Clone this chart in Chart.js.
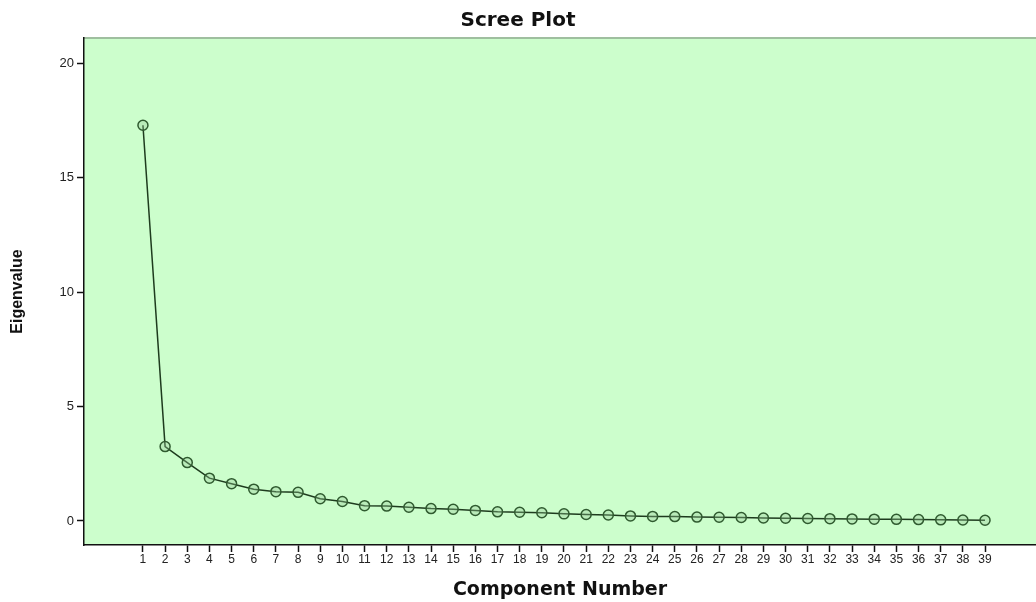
<!DOCTYPE html>
<html lang="en">
<head>
<meta charset="UTF-8">
<title>Scree Plot</title>
<script src="https://cdn.jsdelivr.net/npm/chart.js"></script>
<style>
    body { margin: 0; background: white; }
    #wrap { width: 1036px; height: 602px; }
</style>
</head>
<body>
<div id="wrap"><canvas id="scree" width="1036" height="602"></canvas></div>
<script>
const components = [1, 2, 3, 4, 5, 6, 7, 8, 9, 10, 11, 12, 13, 14, 15, 16, 17, 18, 19, 20,
    21, 22, 23, 24, 25, 26, 27, 28, 29, 30, 31, 32, 33, 34, 35, 36, 37, 38, 39];
const eigenvalues = [17.29, 3.25, 2.55, 1.87, 1.63, 1.39, 1.28, 1.25, 0.97, 0.85,
    0.67, 0.65, 0.60, 0.54, 0.51, 0.46, 0.40, 0.38, 0.36, 0.31,
    0.28, 0.26, 0.22, 0.20, 0.19, 0.17, 0.16, 0.15, 0.13, 0.12,
    0.11, 0.10, 0.09, 0.08, 0.07, 0.06, 0.05, 0.04, 0.03];
const yTicks = [0, 5, 10, 15, 20];

// green plot area + grey top edge
const plotBg = {
    id: 'plotBg',
    beforeDraw(chart) {
        const {ctx, chartArea: a} = chart;
        ctx.save();
        ctx.fillStyle = '#ccfecc';
        ctx.fillRect(a.left, a.top, a.right - a.left, a.bottom - a.top);
        ctx.strokeStyle = '#9fbf9f';
        ctx.lineWidth = 2;
        ctx.beginPath();
        ctx.moveTo(a.left, a.top);
        ctx.lineTo(a.right, a.top);
        ctx.stroke();
        ctx.restore();
    }
};

new Chart(document.getElementById('scree'), {
    type: 'line',
    data: {
        datasets: [{
            data: components.map((c, i) => ({x: c, y: eigenvalues[i]})),
            borderColor: '#1e3b1e',
            borderWidth: 1.5,
            pointRadius: 5,
            pointBorderWidth: 1.5,
            pointBorderColor: '#2f5a2f',
            pointBackgroundColor: 'rgba(150,200,150,0.35)',
            tension: 0
        }]
    },
    options: {
        responsive: false,
        animation: false,
        layout: { autoPadding: false, padding: 0 },
        plugins: {
            legend: { display: false },
            tooltip: { enabled: false },
            title: {
                display: true,
                text: 'Scree Plot',
                color: '#111',
                font: { family: 'DejaVu Sans, sans-serif', size: 20, weight: 'bold' },
                padding: { top: 9, bottom: 5 }
            }
        },
        scales: {
            x: {
                type: 'linear',
                min: -1.66,
                max: 41.3,
                afterBuildTicks(scale) { scale.ticks = components.map(v => ({value: v})); },
                afterFit(scale) { scale.height = 57; },
                grid: { drawOnChartArea: false, tickLength: 7, color: '#111', tickWidth: 1.5 },
                border: { display: true, color: '#111', width: 1.5 },
                ticks: {
                    autoSkip: false, maxRotation: 0, padding: 0, color: '#222',
                    font: { family: 'Liberation Sans, Arial, sans-serif', size: 12 }
                },
                title: {
                    display: true,
                    text: 'Component Number',
                    color: '#111',
                    font: { family: 'DejaVu Sans, sans-serif', size: 19, weight: 'bold' },
                    padding: { top: 0, bottom: 1 }
                }
            },
            y: {
                min: -1.05,
                max: 21.1,
                afterBuildTicks(scale) { scale.ticks = yTicks.map(v => ({value: v})); },
                afterFit(scale) { scale.width = 84; },
                grid: { drawOnChartArea: false, tickLength: 7, color: '#111', tickWidth: 1.5 },
                border: { display: true, color: '#111', width: 1.5 },
                ticks: {
                    padding: 3, color: '#222',
                    font: { family: 'Liberation Sans, Arial, sans-serif', size: 13 }
                },
                title: {
                    display: true,
                    text: 'Eigenvalue',
                    color: '#111',
                    font: { family: 'Liberation Sans Narrow, Arial Narrow, sans-serif', size: 16, weight: 'bold' },
                    padding: { top: 8, bottom: 0 }
                }
            }
        }
    },
    plugins: [plotBg]
});
</script>
</body>
</html>
